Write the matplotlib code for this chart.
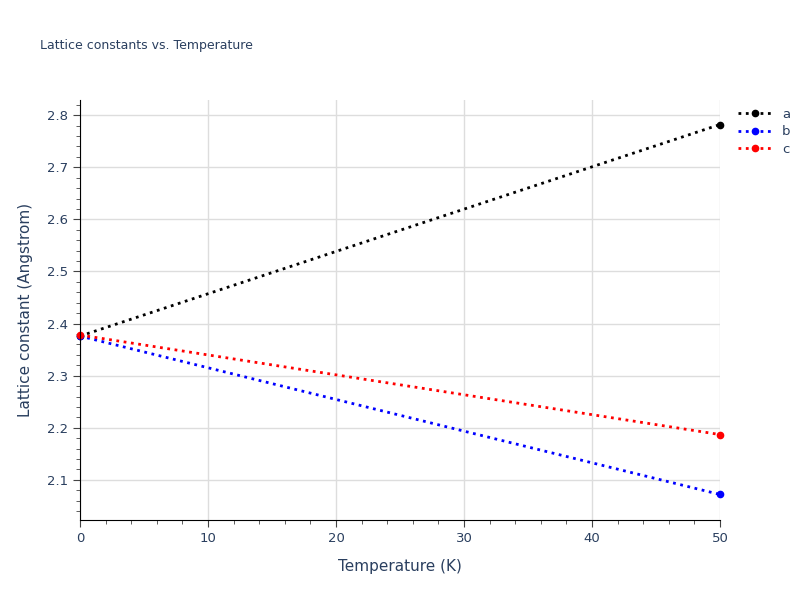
import matplotlib
matplotlib.use("Agg")
import matplotlib.pyplot as plt
from matplotlib.ticker import MultipleLocator

temps = [0, 50]
a_vals = [2.376, 2.782]
b_vals = [2.376, 2.072]
c_vals = [2.378, 2.187]
series = [("a", a_vals, "black"), ("b", b_vals, "blue"), ("c", c_vals, "red")]

fig = plt.figure(figsize=(8, 6), dpi=100)
ax = fig.add_axes([0.1, 0.1333, 0.8, 0.7])
for name, vals, col in series:
    ax.plot(temps, vals, linestyle=":", linewidth=2, color=col, marker="o", markersize=4.5,
            label=name, clip_on=False)

ax.set_xlim(0, 50)
ax.set_ylim(2.023, 2.829)
ax.xaxis.set_major_locator(MultipleLocator(10))
ax.xaxis.set_minor_locator(MultipleLocator(2))
ax.yaxis.set_major_locator(MultipleLocator(0.1))
ax.yaxis.set_minor_locator(MultipleLocator(0.02))
ax.grid(True, which="major", color="#dddddd", linewidth=1)
ax.set_axisbelow(True)
for s in ["top", "right"]:
    ax.spines[s].set_visible(False)
for s in ["left", "bottom"]:
    ax.spines[s].set_color("black")
ax.tick_params(which="major", length=5, color="#444444", labelcolor="#2a3f5f", labelsize=9.5)
ax.tick_params(which="minor", length=3, color="#444444")
ax.set_xlabel("Temperature (K)", fontsize=11, color="#2a3f5f", labelpad=10)
ax.set_ylabel("Lattice constant (Angstrom)", fontsize=11, color="#2a3f5f", labelpad=10)
fig.text(0.05, 0.918, "Lattice constants vs. Temperature", fontsize=9, color="#2a3f5f")
leg = ax.legend(loc="upper left", bbox_to_anchor=(1.01, 1.01), frameon=False, fontsize=9.5,
                handlelength=2.5, labelspacing=0.35)
for t in leg.get_texts():
    t.set_color("#2a3f5f")
fig.savefig("out.png", dpi=100)
